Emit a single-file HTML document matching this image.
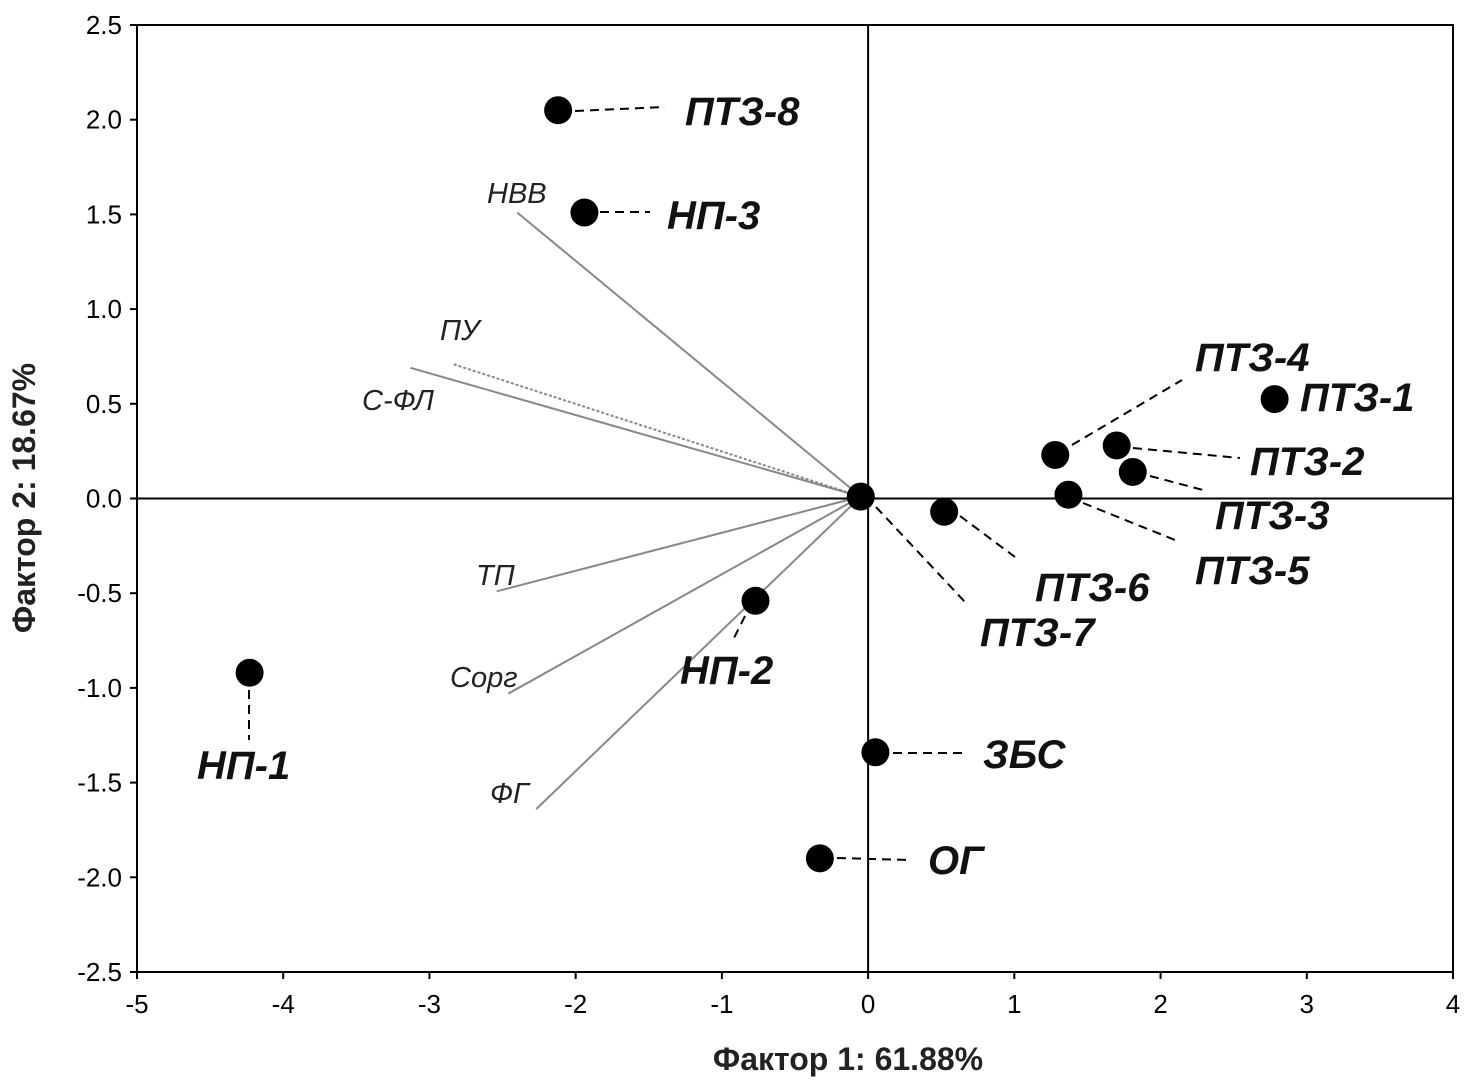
<!DOCTYPE html>
<html><head><meta charset="utf-8">
<style>
html,body{margin:0;padding:0;background:#fff;}
svg{display:block;}
text{font-family:"Liberation Sans",sans-serif;}
</style></head>
<body>
<svg id="chart" width="1476" height="1091" viewBox="0 0 1476 1091" xmlns="http://www.w3.org/2000/svg"></svg>
<script>
const xTicks=[-5,-4,-3,-2,-1,0,1,2,3,4];
const yTicks=[2.5,2.0,1.5,1.0,0.5,0.0,-0.5,-1.0,-1.5,-2.0,-2.5];
const pointNames=["ПТЗ-8","НП-3","ПТЗ-1","ПТЗ-4","ПТЗ-2","ПТЗ-3","ПТЗ-5","ПТЗ-6","ПТЗ-7","НП-2","НП-1","ЗБС","ОГ"];
const pointX=[-2.12,-1.94,2.78,1.28,1.70,1.81,1.37,0.52,-0.05,-0.77,-4.23,0.05,-0.33];
const pointY=[2.05,1.51,0.525,0.23,0.28,0.14,0.02,-0.07,0.01,-0.54,-0.92,-1.34,-1.90];
const vecNames=["НВВ","ПУ","С-ФЛ","ТП","Сорг","ФГ"];
const vecX=[-2.40,-2.84,-3.13,-2.54,-2.46,-2.27];
const vecY=[1.51,0.71,0.69,-0.49,-1.03,-1.64];
const vecOriginX=-0.05, vecOriginY=0.01;

const L=137,R=1453,T=25,B=972;
const sx=v=>L+(v+5)/9*(R-L);
const sy=v=>T+(2.5-v)/5*(B-T);
const svg=document.getElementById('chart');
const NS="http://www.w3.org/2000/svg";
function mk(tag,attrs,parent){const e=document.createElementNS(NS,tag);for(const k in attrs)e.setAttribute(k,attrs[k]);(parent||svg).appendChild(e);return e;}

const frame=mk('rect',{x:L,y:T,width:R-L,height:B-T,fill:'none',stroke:'#000','stroke-width':2});


const zx=mk('line',{x1:sx(0),y1:T,x2:sx(0),y2:B,stroke:'#000','stroke-width':2});


const zy=mk('line',{x1:L,y1:sy(0),x2:R,y2:sy(0),stroke:'#000','stroke-width':2});



xTicks.forEach(v=>{
  mk('line',{x1:sx(v),y1:B,x2:sx(v),y2:B+7,stroke:'#000','stroke-width':2});
  const t=mk('text',{x:sx(v),y:1013,'text-anchor':'middle','font-size':26});
  t.textContent=v;
  
  
});
yTicks.forEach(v=>{
  mk('line',{x1:L-7,y1:sy(v),x2:L,y2:sy(v),stroke:'#000','stroke-width':2});
  const t=mk('text',{x:122,y:sy(v)+9,'text-anchor':'end','font-size':26});
  t.textContent=v.toFixed(1);
  
  
});
const xt=mk('text',{x:848,y:1070,'text-anchor':'middle','font-size':32,'font-weight':'bold',fill:'#222'});
xt.textContent='Фактор 1: 61.88%';


const yt=mk('text',{x:0,y:0,'text-anchor':'middle','font-size':32,'font-weight':'bold',fill:'#222',transform:'translate(35,498) rotate(-90)'});
yt.textContent='Фактор 2: 18.67%';



const vecLabelPos=[[487,203],[440,340],[362,410],[476,585],[450,687],[490,803]];
vecNames.forEach((n,i)=>{
  const ln=mk('line',{x1:sx(vecOriginX),y1:sy(vecOriginY),x2:sx(vecX[i]),y2:sy(vecY[i]),stroke:'#888','stroke-width':2,'stroke-dasharray':n==='ПУ'?'3 2':'none'});
  
  
  const t=mk('text',{x:vecLabelPos[i][0],y:vecLabelPos[i][1],'font-size':29,'font-style':'italic',fill:'#222'});
  t.textContent=n;
  
  
});

const leaders=[[[575,111],[665,107]],[[600,212],[650,212]],[[1290,399],[1295,399]],[[1072,445],[1182,380]],[[1133,448],[1240,458]],[[1150,476],[1203,490]],[[1083,503],[1175,540]],[[960,516],[1015,557]],[[876,507],[965,602]],[[745,616],[733,640]],[[249,690],[249,740]],[[893,753],[965,753]],[[837,858],[910,860]]];
const labelPos=[[685,125],[667,229],[1300,411],[1195,371],[1250,475],[1215,529],[1195,584],[1035,601],[980,646],[680,684],[197,779],[983,768],[928,874]];
pointNames.forEach((n,i)=>{
  const l=leaders[i];
  if(n!=='ПТЗ-1'){
    const d=mk('line',{x1:l[0][0],y1:l[0][1],x2:l[1][0],y2:l[1][1],stroke:'#000','stroke-width':2,'stroke-dasharray':'9 6'});
    
    
  }
});
pointNames.forEach((n,i)=>{
  const c=mk('circle',{cx:sx(pointX[i]),cy:sy(pointY[i]),r:14,fill:'#000'});
  
  
  const t=mk('text',{x:labelPos[i][0],y:labelPos[i][1],'font-size':40,'font-style':'italic','font-weight':'bold',fill:'#111'});
  t.textContent=n;
  
  
});
</script>
</body></html>
